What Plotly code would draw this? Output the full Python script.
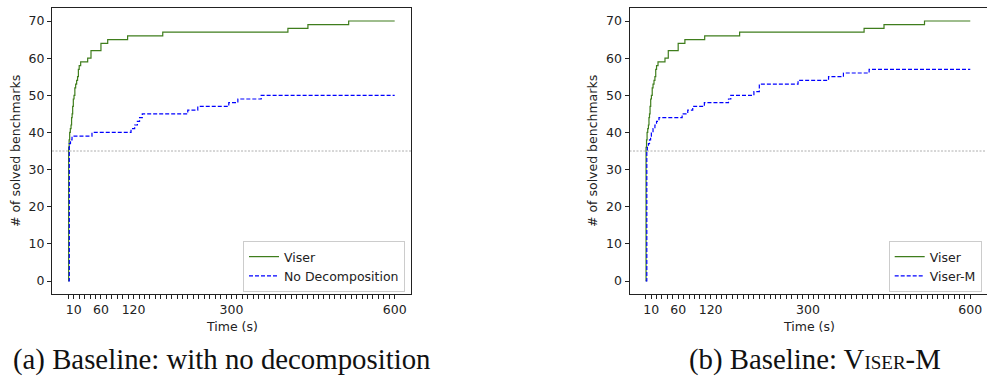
import plotly.graph_objects as go

# ---------------- data ----------------
viser_t = [0, 0.6, 1.5, 2.5, 3.7, 5, 6, 7, 8, 9.2, 10.5, 12, 13.5, 15.3, 17, 18.5, 20, 22.7,
           35.6, 41.7, 60, 72.4, 109, 173.6, 403.7, 440.5, 515.4, 600]
viser_v = [0, 36, 38, 40, 41, 42, 44, 45, 47, 49, 50, 52, 53, 54, 55, 57, 58, 59,
           60, 62, 64, 65, 66, 67, 68, 69, 70, 70]

nodecomp_t = [0, 1.8, 4, 6.8, 43.5, 115.3, 122, 127, 131, 136, 219.6, 238, 295, 311.7, 354.6, 600]
nodecomp_v = [0, 37, 38, 39, 40, 41, 42, 43, 44, 45, 46, 47, 48, 49, 50, 50]

viserm_t = [0, 2, 3, 5, 7, 9, 10.4, 13.5, 17, 20, 24.5, 67.3, 77.7, 86.9, 108.4, 153, 157.3,
            200, 210, 281.6, 338, 365.5, 413, 600]
viserm_v = [0, 35, 36, 37, 38, 39, 40, 41, 42, 43, 44, 45, 46, 47, 48, 49, 50,
            51, 53, 54, 55, 56, 57, 57]

threshold = 35
x_tick_vals = list(range(0, 601, 10))
x_label_vals = [10, 60, 120, 300, 600]
y_tick_vals = [0, 10, 20, 30, 40, 50, 60, 70]

x_title = "Time (s)"
y_title = "# of solved benchmarks"
caption_a = "(a) Baseline: with no decomposition"
caption_b = "(b) Baseline: V<span style='font-size:19px'>ISER</span>-M"

# ---------------- styling ----------------
W, H = 987, 377
GREEN = "#3f7d1c"
BLUE = "#0000ff"
INK = "#222222"
SANS = "DejaVu Sans"
FS = 12.5

fig = go.Figure()

fig.add_trace(go.Scatter(x=viser_t, y=viser_v, mode="lines", name="Viser",
                         line=dict(color=GREEN, width=1.2, shape="hv"),
                         xaxis="x", yaxis="y", legend="legend"))
fig.add_trace(go.Scatter(x=nodecomp_t, y=nodecomp_v, mode="lines", name="No Decomposition",
                         line=dict(color=BLUE, width=1.2, shape="hv", dash="4px,2px"),
                         xaxis="x", yaxis="y", legend="legend"))
fig.add_trace(go.Scatter(x=viser_t, y=viser_v, mode="lines", name="Viser",
                         line=dict(color=GREEN, width=1.2, shape="hv"),
                         xaxis="x2", yaxis="y2", legend="legend2"))
fig.add_trace(go.Scatter(x=viserm_t, y=viserm_v, mode="lines", name="Viser-M",
                         line=dict(color=BLUE, width=1.2, shape="hv", dash="4px,2px"),
                         xaxis="x2", yaxis="y2", legend="legend2"))

ticktext = [str(v) if v in x_label_vals else "" for v in x_tick_vals]


def xaxis(domain, anchor):
    return dict(domain=domain, anchor=anchor, range=[-30, 630],
                tickmode="array", tickvals=x_tick_vals, ticktext=ticktext,
                ticks="outside", ticklen=4, tickwidth=1, tickcolor=INK,
                showline=True, linecolor=INK, linewidth=1, mirror=True,
                showgrid=False, zeroline=False,
                tickfont=dict(family=SANS, size=FS, color=INK))


def yaxis(domain, anchor):
    return dict(domain=domain, anchor=anchor, range=[-3.5, 73.5],
                tickmode="array", tickvals=y_tick_vals,
                ticks="outside", ticklen=4, tickwidth=1, tickcolor=INK,
                showline=True, linecolor=INK, linewidth=1, mirror=True,
                showgrid=False, zeroline=False,
                tickfont=dict(family=SANS, size=FS, color=INK))


ydom = [83 / H, 369 / H]
leg_y = (H - 292) / H
fig.update_layout(
    width=W, height=H,
    margin=dict(l=0, r=0, t=0, b=0),
    paper_bgcolor="white", plot_bgcolor="white",
    xaxis=xaxis([52 / W, 411 / W], "y"),
    yaxis=yaxis(ydom, "x"),
    xaxis2=xaxis([629.5 / W, 986.5 / W], "y2"),
    yaxis2=yaxis(ydom, "x2"),
    legend=dict(x=405 / W, xanchor="right", y=leg_y, yanchor="bottom",
                bgcolor="rgba(255,255,255,0.8)", bordercolor="#cccccc", borderwidth=1,
                font=dict(family=SANS, size=FS, color=INK)),
    legend2=dict(x=981.7 / W, xanchor="right", y=leg_y, yanchor="bottom",
                 bgcolor="rgba(255,255,255,0.8)", bordercolor="#cccccc", borderwidth=1,
                 font=dict(family=SANS, size=FS, color=INK)),
    showlegend=True,
)

for xr, yr in (("x", "y"), ("x2", "y2")):
    fig.add_shape(type="line", xref=f"{xr} domain", x0=0, x1=1, yref=yr, y0=threshold, y1=threshold,
                  line=dict(color="#999999", width=0.8, dash="2px,1.5px"), layer="below")

ann_font = dict(family=SANS, size=FS, color=INK)
yc = (H - 151) / H
for xc, yx in ((231.5, 15), (809, 592)):
    fig.add_annotation(text=x_title, xref="paper", yref="paper", x=xc / W, y=(H - 326) / H,
                       xanchor="center", yanchor="middle", showarrow=False, font=ann_font)
    fig.add_annotation(text=y_title, xref="paper", yref="paper", x=yx / W, y=yc,
                       xanchor="center", yanchor="middle", textangle=-90, showarrow=False, font=ann_font)

cap_font = dict(family="Liberation Serif", size=28.8, color="#111111")
cap_y = (H - 359) / H
fig.add_annotation(text=caption_a, xref="paper", yref="paper", x=221 / W, y=cap_y,
                   xanchor="center", yanchor="middle", showarrow=False, font=cap_font)
fig.add_annotation(text=caption_b, xref="paper", yref="paper", x=815 / W, y=cap_y,
                   xanchor="center", yanchor="middle", showarrow=False, font=cap_font)

fig.write_html("out.html")
